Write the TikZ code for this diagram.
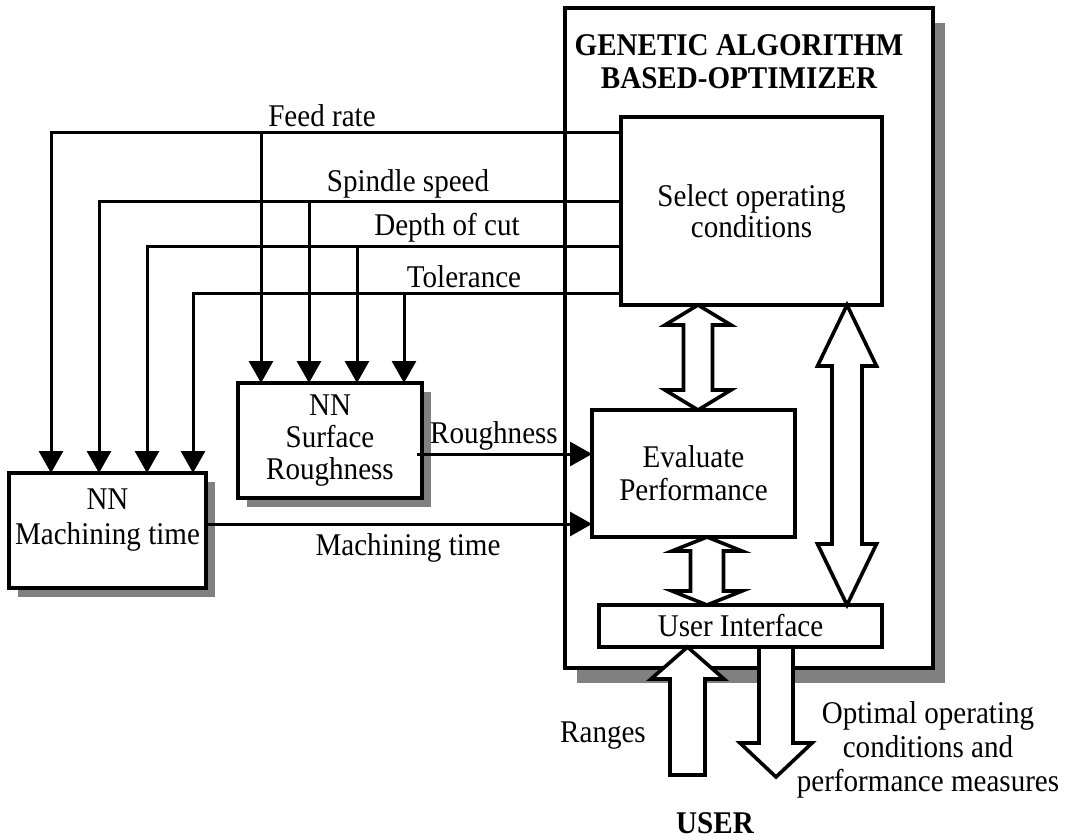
\documentclass[tikz,border=0pt]{standalone}
\usepackage{fontspec}
\setmainfont{Liberation Serif}[FakeStretch=0.92]
\usetikzlibrary{positioning, arrows.meta, shadows, calc}
\tikzstyle{box} = [draw, line width=2pt, fill=white, outer sep=0pt, align=center, inner sep=0pt]
\tikzstyle{shade} = [drop shadow={shadow xshift=4.5pt, shadow yshift=-4.5pt, opacity=1, fill=black!50}]
\tikzstyle{conn} = [line width=1.5pt, -{Triangle[length=11pt,width=12pt]}]
\tikzstyle{hollow} = [draw, fill=white, line width=1.8pt, line join=miter]
\tikzstyle{lbl} = [anchor=base, inner sep=0pt]
% block arrows: tip, tail, half shaft, half head, head length
\newcommand{\hollowup}[5]{\draw[hollow] let \p1=#1, \p2=#2 in (\x1,\y1) -- (\x1+#4,\y1-#5) -- (\x1+#3,\y1-#5) -- (\x1+#3,\y2) -- (\x1-#3,\y2) -- (\x1-#3,\y1-#5) -- (\x1-#4,\y1-#5) -- cycle;}
\newcommand{\hollowdown}[5]{\draw[hollow] let \p1=#1, \p2=#2 in (\x1,\y1) -- (\x1+#4,\y1+#5) -- (\x1+#3,\y1+#5) -- (\x1+#3,\y2) -- (\x1-#3,\y2) -- (\x1-#3,\y1+#5) -- (\x1-#4,\y1+#5) -- cycle;}
\newcommand{\dblarrow}[5]{\draw[hollow] let \p1=#1, \p2=#2 in (\x1,\y1) -- (\x1+#4,\y1-#5) -- (\x1+#3,\y1-#5) -- (\x1+#3,\y2+#5) -- (\x1+#4,\y2+#5) -- (\x1,\y2) -- (\x1-#4,\y2+#5) -- (\x1-#3,\y2+#5) -- (\x1-#3,\y1-#5) -- (\x1-#4,\y1-#5) -- cycle;}
\begin{document}
\begin{tikzpicture}[x=0.5pt, y=-0.5pt, every node/.style={font=\fontsize{15.8}{16.5}\selectfont}]
\useasboundingbox (0,0) rectangle (1068,839);
% optimizer
\node[box, drop shadow={shadow xshift=6pt, shadow yshift=-7.5pt, opacity=1, fill=black!50}, minimum width=184pt, minimum height=330pt] (ga) at (749,338) {};
\node[align=center, font=\fontsize{15.8}{16.5}\selectfont\bfseries] (title) at (739,61.5) {GENETIC ALGORITHM\\BASED-OPTIMIZER};
\node[box, minimum width=130.5pt, minimum height=94pt, font=\fontsize{15.8}{14}\selectfont] (sel) at (751.5,211) {Select operating\\conditions};
\node[box, minimum width=101.5pt, minimum height=63.5pt] (ev) at (693.5,473.5) {Evaluate\\Performance};
\node[box, minimum width=141.5pt, minimum height=21pt] (ui) at (740.5,626) {User Interface};
% networks
\node[box, shade, minimum width=92pt, minimum height=57.5pt, font=\fontsize{15.8}{15.8}\selectfont] (nnsr) at (330,440.5) {NN\\Surface\\Roughness};
\node[box, shade, minimum width=98.5pt, minimum height=57.5pt] (nnmt) at (107.5,530.5) {};
\node[align=center, anchor=north, inner sep=0pt, font=\fontsize{15.8}{17.5}\selectfont] (mttext) at ([yshift=-7.5pt]nnmt.north) {NN\\Machining time};
% operating conditions
\coordinate (fr) at ([yshift=39pt]sel.west);
\coordinate (ss) at ([yshift=4.5pt]sel.west);
\coordinate (dc) at ([yshift=-18pt]sel.west);
\coordinate (tl) at ([yshift=-41pt]sel.west);
\draw[conn] (fr) -| ([xshift=21pt]nnmt.north west);
\draw[conn] ([xshift=11.5pt]nnsr.north west |- fr) -- ([xshift=11.5pt]nnsr.north west);
\draw[conn] (ss) -| ([xshift=45pt]nnmt.north west);
\draw[conn] ([xshift=35.5pt]nnsr.north west |- ss) -- ([xshift=35.5pt]nnsr.north west);
\draw[conn] (dc) -| ([xshift=69pt]nnmt.north west);
\draw[conn] ([xshift=59.5pt]nnsr.north west |- dc) -- ([xshift=59.5pt]nnsr.north west);
\draw[conn] (tl) -| ([xshift=92pt]nnmt.north west);
\draw[conn] ([xshift=83pt]nnsr.north west |- tl) -- ([xshift=83pt]nnsr.north west);
\node[lbl] (lfr) at (322,127) {Feed rate};
\node[lbl] (lss) at (408,192) {Spindle speed};
\node[lbl] (ldc) at (447,236) {Depth of cut};
\node[lbl] (ltl) at (464,287) {Tolerance};
% predictions
\draw[conn] ([xshift=-2.5pt,yshift=-6.75pt]nnsr.east) -- ([yshift=-6.75pt]nnsr.east -| ev.west);
\draw[conn] ([yshift=3.25pt]nnmt.east) -- ([yshift=3.25pt]nnmt.east -| ev.west);
\node[lbl] (lrg) at (494,443) {Roughness};
\node[lbl] (lmt) at (408,555) {Machining time};
% inside the optimizer
\coordinate (d1) at ([xshift=2.25pt]ev.north);
\dblarrow{(d1 |- sel.south)}{(d1)}{7.25pt}{16.5pt}{10pt}
\coordinate (d2) at ([xshift=6.75pt]ev.south);
\dblarrow{(d2)}{(d2 |- ui.north)}{8.25pt}{17.5pt}{7pt}
\coordinate (d3) at ([xshift=-17.5pt]sel.south east);
\dblarrow{(d3)}{(d3 |- ui.north)}{7.5pt}{14.75pt}{30.5pt}
% user
\coordinate (rn) at ([xshift=-26.5pt]ui.south);
\coordinate (rntail) at ([yshift=-64pt]rn);
\hollowup{(rn)}{(rntail)}{8.75pt}{18.25pt}{16pt}
\coordinate (op) at ([xshift=17.75pt]ui.south);
\coordinate (optip) at ([yshift=-65pt]op);
\hollowdown{(optip)}{(op)}{8.5pt}{18pt}{17pt}
\node[lbl] (lrn) at (603,742) {Ranges};
\node[lbl, align=center, font=\fontsize{15.8}{17}\selectfont] (lout) at (928,791) {Optimal operating\\conditions and\\performance measures};
\node[lbl, font=\fontsize{15.8}{16.5}\selectfont\bfseries] (user) at (715,833) {USER};
\end{tikzpicture}
\end{document}
